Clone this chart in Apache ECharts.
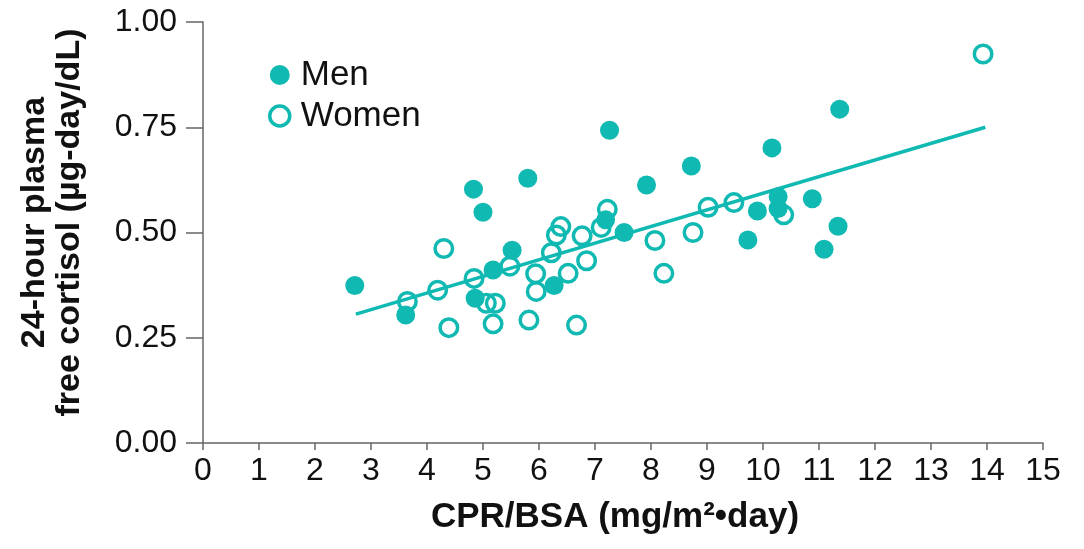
<!DOCTYPE html>
<html>
<head>
<meta charset="utf-8">
<script src="https://cdn.jsdelivr.net/npm/echarts@6/dist/echarts.min.js"></script>
<style>
html,body{margin:0;padding:0;background:#fff;}
#chart{width:1084px;height:549px;}
</style>
</head>
<body>
<div id="chart"></div>
<script>
// Men (filled circles): CPR/BSA and plasma free cortisol
var menX = [2.71, 3.62, 4.83, 5.00, 4.86, 5.18, 5.52, 5.80, 6.27, 7.19, 7.26, 7.52, 7.92, 8.72, 9.73, 9.90, 10.16, 10.27, 10.27, 10.88, 11.09, 11.34, 11.37];
var menY = [0.374, 0.304, 0.603, 0.548, 0.344, 0.411, 0.458, 0.629, 0.374, 0.530, 0.743, 0.500, 0.613, 0.658, 0.482, 0.551, 0.701, 0.585, 0.557, 0.580, 0.460, 0.515, 0.793];
// Women (open circles)
var womenX = [3.65, 4.19, 4.30, 4.39, 4.84, 5.06, 5.22, 5.18, 5.48, 5.82, 5.94, 5.95, 6.22, 6.31, 6.39, 6.52, 6.67, 6.77, 6.85, 7.11, 7.22, 8.07, 8.23, 8.75, 9.02, 9.48, 10.37, 13.93];
var womenY = [0.336, 0.363, 0.462, 0.274, 0.391, 0.332, 0.332, 0.283, 0.420, 0.292, 0.402, 0.360, 0.452, 0.494, 0.514, 0.403, 0.280, 0.492, 0.433, 0.512, 0.555, 0.481, 0.403, 0.500, 0.560, 0.571, 0.542, 0.924];
// Regression line end points
var trendX = [2.73, 13.97];
var trendY = [0.306, 0.750];
// Axis ticks
var xTicks = [0, 1, 2, 3, 4, 5, 6, 7, 8, 9, 10, 11, 12, 13, 14, 15];
var yTicks = [0.00, 0.25, 0.50, 0.75, 1.00];

var TEAL = '#10b9b1';
function zip(a, b) { return a.map(function (v, i) { return [v, b[i]]; }); }

var chart = echarts.init(document.getElementById('chart'), null, {renderer: 'canvas'});
var fontFam = '"Liberation Sans", Arial, Helvetica, sans-serif';
var axisCol = '#666666';

chart.setOption({
  animation: false,
  backgroundColor: '#ffffff',
  grid: {left: 203, right: 41, top: 22, bottom: 106, containLabel: false},
  legend: {
    orient: 'vertical',
    left: 263,
    top: 52,
    itemWidth: 20,
    itemHeight: 20,
    itemGap: 5,
    textStyle: {fontFamily: fontFam, fontSize: 35, color: '#111', lineHeight: 36, padding: [0, 0, 0, 6]},
    data: [
      {name: 'Men', icon: 'circle', itemStyle: {color: TEAL, borderWidth: 0}},
      {name: 'Women', icon: 'circle', itemStyle: {color: '#fff', borderColor: TEAL, borderWidth: 3.5}}
    ]
  },
  xAxis: {
    type: 'value',
    min: xTicks[0],
    max: xTicks[xTicks.length - 1],
    interval: 1,
    name: 'CPR/BSA (mg/m²•day)',
    nameLocation: 'middle',
    nameGap: 57,
    nameTextStyle: {fontFamily: fontFam, fontSize: 35, fontWeight: 'bold', color: '#111', padding: [0, 16, 0, 0]},
    axisLine: {show: true, onZero: false, lineStyle: {color: axisCol, width: 1.5}},
    axisTick: {show: true, length: 7, lineStyle: {color: axisCol, width: 1.5}},
    axisLabel: {fontFamily: fontFam, fontSize: 32, color: '#111', margin: 12},
    splitLine: {show: false}
  },
  yAxis: {
    type: 'value',
    min: yTicks[0],
    max: yTicks[yTicks.length - 1],
    interval: 0.25,
    name: '24-hour plasma\nfree cortisol (µg-day/dL)',
    nameLocation: 'middle',
    nameGap: 116,
    nameRotate: 90,
    nameTextStyle: {fontFamily: fontFam, fontSize: 34, fontWeight: 'bold', color: '#111', lineHeight: 35, padding: [0, 0, 0, 20]},
    axisLine: {show: true, onZero: false, lineStyle: {color: axisCol, width: 1.5}},
    axisTick: {show: true, length: 17, lineStyle: {color: axisCol, width: 1.5}},
    axisLabel: {fontFamily: fontFam, fontSize: 32, color: '#111', margin: 26,
      formatter: function (v) { return v.toFixed(2); }},
    splitLine: {show: false}
  },
  series: [
    {
      name: 'Trend',
      type: 'line',
      data: zip(trendX, trendY),
      showSymbol: false,
      symbol: 'none',
      lineStyle: {color: TEAL, width: 3.5},
      z: 1,
      silent: true
    },
    {
      name: 'Women',
      type: 'scatter',
      data: zip(womenX, womenY),
      symbol: 'circle',
      symbolSize: 17.5,
      itemStyle: {color: 'rgba(255,255,255,0)', borderColor: TEAL, borderWidth: 3.5, opacity: 1},
      z: 3
    },
    {
      name: 'Men',
      type: 'scatter',
      data: zip(menX, menY),
      symbol: 'circle',
      symbolSize: 19,
      itemStyle: {color: TEAL, opacity: 1},
      z: 2
    }
  ]
});
</script>
</body>
</html>
